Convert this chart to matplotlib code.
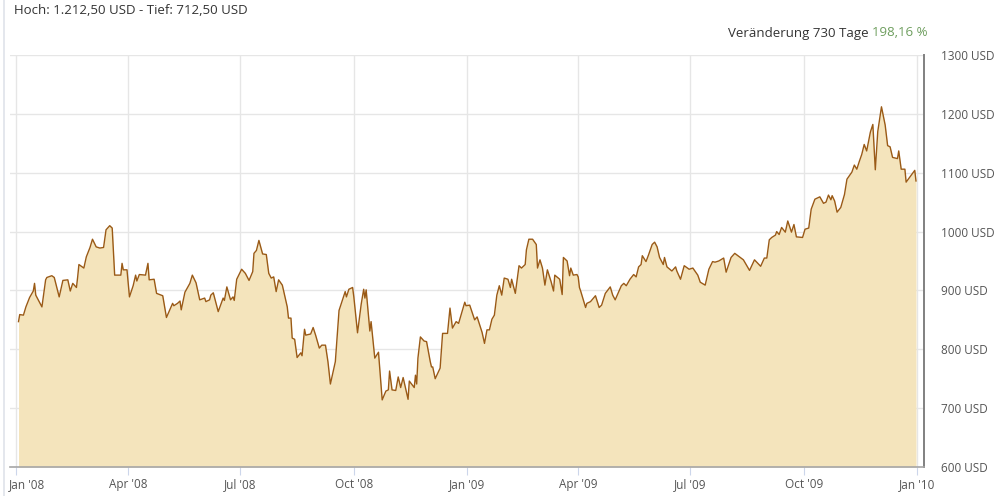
import matplotlib
matplotlib.use("Agg")
import matplotlib.pyplot as plt
import matplotlib.dates as mdates
import matplotlib.transforms as mtransforms
from matplotlib.lines import Line2D
import pandas as pd

# gold price in USD
dates = [
    "2008-01-03", "2008-01-04", "2008-01-07", "2008-01-09", "2008-01-12", "2008-01-15", "2008-01-16", "2008-01-17",
    "2008-01-22", "2008-01-25", "2008-01-26", "2008-01-30", "2008-02-01", "2008-02-05", "2008-02-08", "2008-02-12",
    "2008-02-14", "2008-02-16", "2008-02-19", "2008-02-20", "2008-02-21", "2008-02-25", "2008-02-27", "2008-03-01",
    "2008-03-03", "2008-03-06", "2008-03-09", "2008-03-12", "2008-03-14", "2008-03-17", "2008-03-19", "2008-03-21",
    "2008-03-26", "2008-03-27", "2008-03-28", "2008-03-31", "2008-04-02", "2008-04-05", "2008-04-07", "2008-04-08",
    "2008-04-10", "2008-04-15", "2008-04-17", "2008-04-18", "2008-04-22", "2008-04-24", "2008-04-29", "2008-05-02",
    "2008-05-07", "2008-05-08", "2008-05-11", "2008-05-13", "2008-05-14", "2008-05-17", "2008-05-21", "2008-05-23",
    "2008-05-26", "2008-05-29", "2008-06-02", "2008-06-03", "2008-06-06", "2008-06-07", "2008-06-09", "2008-06-13",
    "2008-06-17", "2008-06-18", "2008-06-20", "2008-06-23", "2008-06-25", "2008-06-26", "2008-06-28", "2008-07-02",
    "2008-07-05", "2008-07-08", "2008-07-11", "2008-07-12", "2008-07-14", "2008-07-16", "2008-07-19", "2008-07-22",
    "2008-07-24", "2008-07-26", "2008-07-28", "2008-07-30", "2008-08-01", "2008-08-04", "2008-08-08", "2008-08-09",
    "2008-08-11", "2008-08-12", "2008-08-14", "2008-08-16", "2008-08-19", "2008-08-20", "2008-08-22", "2008-08-23",
    "2008-08-27", "2008-08-29", "2008-08-31", "2008-09-03", "2008-09-05", "2008-09-08", "2008-09-10", "2008-09-12",
    "2008-09-16", "2008-09-19", "2008-09-24", "2008-09-25", "2008-09-27", "2008-09-30", "2008-10-01", "2008-10-04",
    "2008-10-07", "2008-10-09", "2008-10-10", "2008-10-11", "2008-10-14", "2008-10-15", "2008-10-18", "2008-10-21",
    "2008-10-24", "2008-10-27", "2008-10-29", "2008-10-30", "2008-11-01", "2008-11-04", "2008-11-06", "2008-11-08",
    "2008-11-10", "2008-11-14", "2008-11-15", "2008-11-19", "2008-11-20", "2008-11-21", "2008-11-22", "2008-11-24",
    "2008-11-27", "2008-11-29", "2008-12-02", "2008-12-03", "2008-12-04", "2008-12-06", "2008-12-10", "2008-12-12",
    "2008-12-16", "2008-12-18", "2008-12-20", "2008-12-23", "2008-12-25", "2008-12-30", "2008-12-31",
    "2009-01-03", "2009-01-07", "2009-01-09", "2009-01-13", "2009-01-15", "2009-01-17", "2009-01-19", "2009-01-21",
    "2009-01-23", "2009-01-25", "2009-01-27", "2009-01-29", "2009-01-31", "2009-02-03", "2009-02-05", "2009-02-06",
    "2009-02-09", "2009-02-12", "2009-02-14", "2009-02-17", "2009-02-18", "2009-02-20", "2009-02-23", "2009-02-26",
    "2009-02-27", "2009-03-01", "2009-03-03", "2009-03-05", "2009-03-07", "2009-03-10", "2009-03-12", "2009-03-13",
    "2009-03-17", "2009-03-19", "2009-03-20", "2009-03-23", "2009-03-25", "2009-03-26", "2009-03-28", "2009-03-31",
    "2009-04-01", "2009-04-02", "2009-04-03", "2009-04-07", "2009-04-08", "2009-04-11", "2009-04-15", "2009-04-18",
    "2009-04-20", "2009-04-23", "2009-04-27", "2009-04-29", "2009-05-01", "2009-05-06", "2009-05-08", "2009-05-10",
    "2009-05-13", "2009-05-16", "2009-05-18", "2009-05-20", "2009-05-22", "2009-05-23", "2009-05-26", "2009-05-28",
    "2009-05-31", "2009-06-02", "2009-06-04", "2009-06-06", "2009-06-09", "2009-06-10", "2009-06-12", "2009-06-16",
    "2009-06-19", "2009-06-20", "2009-06-23", "2009-06-26", "2009-06-30", "2009-07-03", "2009-07-07", "2009-07-09",
    "2009-07-13", "2009-07-16", "2009-07-19", "2009-07-21", "2009-07-24", "2009-07-28", "2009-07-30", "2009-08-03",
    "2009-08-06", "2009-08-13", "2009-08-18", "2009-08-22", "2009-08-27", "2009-08-30", "2009-09-01", "2009-09-03",
    "2009-09-05", "2009-09-08", "2009-09-09", "2009-09-11", "2009-09-13", "2009-09-16", "2009-09-18", "2009-09-21",
    "2009-09-23", "2009-09-25", "2009-09-30", "2009-10-02", "2009-10-05", "2009-10-07", "2009-10-10", "2009-10-14",
    "2009-10-17", "2009-10-19", "2009-10-21", "2009-10-23", "2009-10-24", "2009-10-26", "2009-10-28", "2009-10-31",
    "2009-11-03", "2009-11-05", "2009-11-09", "2009-11-11", "2009-11-13", "2009-11-15", "2009-11-17", "2009-11-19",
    "2009-11-21", "2009-11-24", "2009-11-26", "2009-11-28", "2009-11-30", "2009-12-03", "2009-12-06", "2009-12-08",
    "2009-12-10", "2009-12-12", "2009-12-16", "2009-12-17", "2009-12-19", "2009-12-22", "2009-12-23", "2009-12-30",
    "2009-12-31",
]
prices = [
    847, 859, 858, 872, 888, 899, 912, 892, 872, 918, 922, 925, 922, 889, 917, 918,
    899, 912, 905, 923, 944, 938, 957, 973, 987, 974, 972, 973, 1003, 1010, 1006, 926,
    926, 946, 935, 935, 889, 908, 926, 916, 927, 926, 946, 918, 919, 895, 891, 854,
    878, 874, 878, 882, 867, 897, 912, 926, 913, 884, 887, 881, 884, 892, 896, 864,
    887, 883, 906, 884, 889, 883, 919, 936, 929, 917, 932, 963, 968, 985, 962, 961,
    929, 921, 923, 898, 918, 909, 872, 853, 853, 819, 817, 786, 794, 789, 834, 824,
    826, 837, 824, 802, 807, 807, 779, 741, 779, 866, 898, 889, 902, 905, 889, 828,
    877, 902, 887, 901, 831, 847, 785, 795, 714, 729, 731, 763, 731, 730, 753, 735,
    752, 715, 746, 735, 756, 741, 785, 821, 814, 813, 779, 770, 770, 750, 768, 827,
    827, 870, 836, 847, 844, 880, 874,
    875, 850, 855, 829, 810, 833, 833, 851, 858, 892, 908, 892, 921, 919, 905, 919,
    895, 942, 938, 944, 969, 987, 987, 978, 938, 952, 938, 909, 935, 915, 899, 926,
    919, 893, 956, 950, 925, 938, 926, 927, 923, 905, 899, 871, 878, 881, 891, 871,
    875, 895, 906, 892, 884, 908, 912, 908, 919, 927, 923, 940, 944, 959, 949, 960,
    978, 982, 974, 956, 944, 956, 940, 933, 940, 933, 919, 942, 936, 938, 926, 914,
    909, 936, 949, 948, 950, 955, 931, 956, 963, 952, 934, 952, 941, 955, 955, 986,
    990, 994, 1000, 995, 1007, 999, 1018, 999, 1012, 991, 990, 1004, 1006, 1038, 1055, 1059,
    1048, 1050, 1062, 1054, 1061, 1052, 1033, 1041, 1063, 1089, 1101, 1113, 1106, 1119, 1131, 1148,
    1137, 1169, 1182, 1105, 1170, 1212, 1181, 1146, 1144, 1126, 1124, 1137, 1106, 1106, 1084, 1104,
    1086,
]
y_ticks = [600, 700, 800, 900, 1000, 1100, 1200, 1300]
x_ticks = ["2008-01-01", "2008-04-01", "2008-07-01", "2008-10-01", "2009-01-01",
           "2009-04-01", "2009-07-01", "2009-10-01", "2010-01-01"]

title_left = "Hoch: 1.212,50 USD - Tief: 712,50 USD"
change_label = "Veränderung 730 Tage "
change_value = "198,16 %"

plt.rcParams['font.family'] = ['Open Sans', 'DejaVu Sans']

d = pd.to_datetime(dates)
fig = plt.figure(figsize=(10, 4.96), dpi=100)
ax = fig.add_axes([0.010, 29 / 496, 0.914, 412 / 496])

ax.fill_between(d, prices, 600, color='#f4e4bc', lw=0, zorder=2)
ax.plot(d, prices, color='#9a5a16', lw=1.0, zorder=3)

start = pd.Timestamp("2008-01-01")
ax.set_xlim(start - pd.Timedelta(days=4.9), start + pd.Timedelta(days=736.5))
ax.set_ylim(600, 1300)

ax.set_xticks(pd.to_datetime(x_ticks))
ax.xaxis.set_major_formatter(mdates.DateFormatter("%b '%y"))
ax.set_yticks(y_ticks)
ax.set_yticklabels([f"{v} USD" for v in y_ticks])
ax.yaxis.tick_right()

ax.grid(True, color='#e6e6e6', lw=1, zorder=0)
ax.set_axisbelow(True)
ax.tick_params(axis='x', length=6, color='#ccd6eb', width=0.8, pad=2,
               labelsize=8.5, labelcolor='#555555')
ax.tick_params(axis='y', length=0, pad=12, labelsize=8.5, labelcolor='#555555')
for lab in ax.get_yticklabels():
    lab.set_horizontalalignment('left')

# first date label is pushed inside the frame, like the original
first = ax.get_xticklabels()[0]
first.set_horizontalalignment('left')
first.set_transform(first.get_transform() +
                    mtransforms.ScaledTranslation(-7 / 100, 0, fig.dpi_scale_trans))

for s in ['left', 'top']:
    ax.spines[s].set_visible(False)
ax.spines['bottom'].set_color('#a6a6a6')
ax.spines['bottom'].set_linewidth(1.2)
ax.spines['right'].set_color('#808080')
ax.spines['right'].set_linewidth(1.4)

# light frame on the left edge
fig.add_artist(Line2D([0.0035, 0.0035], [0, 1], transform=fig.transFigure,
                      color='#dfe3ea', lw=1.2))

fig.text(0.014, 1 - 11 / 496, title_left, fontsize=9.5, color='#333333',
         ha='left', va='center')
t2 = fig.text(0.928, 1 - 33 / 496, change_value, fontsize=9.5, color='#6e9e5e',
              ha='right', va='center')
fig.canvas.draw()
bb = t2.get_window_extent(fig.canvas.get_renderer())
fig.text(bb.x0 / fig.bbox.width, 1 - 33 / 496, change_label, fontsize=9.5,
         color='#333333', ha='right', va='center')

fig.savefig("out.png", dpi=100)
